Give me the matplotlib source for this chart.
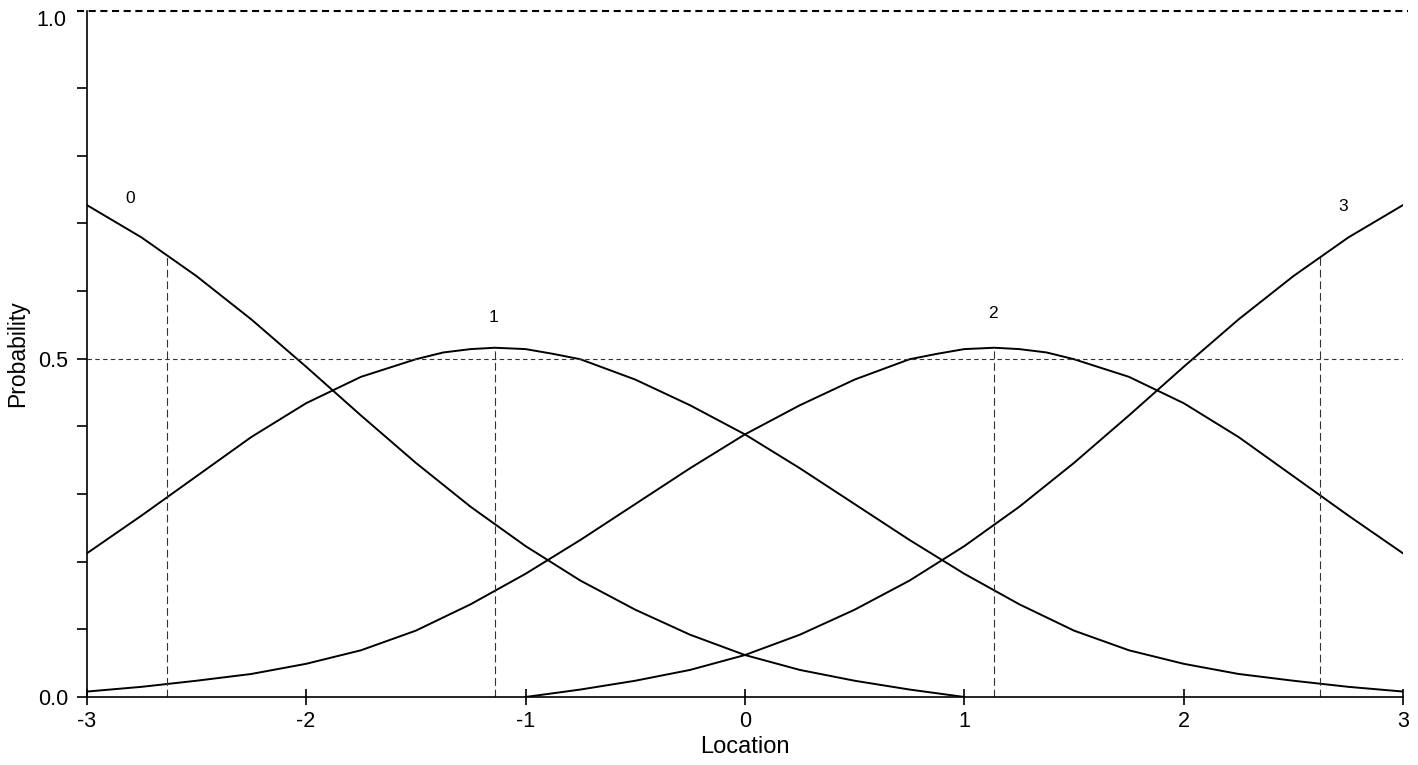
import numpy as np
import matplotlib
matplotlib.use('Agg')
import matplotlib.pyplot as plt

plt.rcParams['font.family'] = ['Liberation Sans', 'DejaVu Sans']

# category probability curves
x0 = [-3.0, -2.75, -2.5, -2.25, -2.0, -1.75, -1.5, -1.25, -1.0, -0.75, -0.5, -0.25, 0.0, 0.25, 0.5, 0.75, 1.0]
p0 = [0.727, 0.679, 0.622, 0.558, 0.488, 0.416, 0.346, 0.281, 0.223, 0.172, 0.129, 0.092, 0.062, 0.040, 0.024, 0.011, 0.0]

x1 = [-3.0, -2.75, -2.5, -2.25, -2.0, -1.75, -1.5, -1.375, -1.25, -1.14, -1.0, -0.875, -0.75, -0.5, -0.25, 0.0,
      0.25, 0.5, 0.75, 1.0, 1.25, 1.5, 1.75, 2.0, 2.25, 2.5, 2.75, 3.0]
p1 = [0.212, 0.268, 0.326, 0.384, 0.434, 0.473, 0.499, 0.509, 0.514, 0.516, 0.514, 0.507, 0.499, 0.469, 0.431, 0.388,
      0.338, 0.285, 0.232, 0.182, 0.137, 0.098, 0.069, 0.049, 0.034, 0.024, 0.015, 0.008]

x2 = [-3.0, -2.75, -2.5, -2.25, -2.0, -1.75, -1.5, -1.25, -1.0, -0.75, -0.5, -0.25, 0.0,
      0.25, 0.5, 0.75, 0.875, 1.0, 1.137, 1.25, 1.375, 1.5, 1.75, 2.0, 2.25, 2.5, 2.75, 3.0]
p2 = [0.008, 0.015, 0.024, 0.034, 0.049, 0.069, 0.098, 0.137, 0.182, 0.232, 0.285, 0.338, 0.388,
      0.431, 0.469, 0.499, 0.507, 0.514, 0.516, 0.514, 0.509, 0.499, 0.473, 0.434, 0.384, 0.326, 0.268, 0.212]

x3 = [-1.0, -0.75, -0.5, -0.25, 0.0, 0.25, 0.5, 0.75, 1.0, 1.25, 1.5, 1.75, 2.0, 2.25, 2.5, 2.75, 3.0]
p3 = [0.0, 0.011, 0.024, 0.040, 0.062, 0.092, 0.129, 0.172, 0.223, 0.281, 0.346, 0.416, 0.488, 0.558, 0.622, 0.679, 0.727]

curve_labels = ['0', '1', '2', '3']
# locations of the dashed drop lines (one per curve)
drop_x = [-2.635, -1.14, 1.137, 2.62]

fig = plt.figure(figsize=(14.18, 7.65), dpi=100)
ax = fig.add_axes([0.0611, 0.0889, 0.9285, 0.8967])

curves = [(x0, p0), (x1, p1), (x2, p2), (x3, p3)]
for xs, ps in curves:
    ax.plot(xs, ps, color='black', lw=1.4, solid_joinstyle='round')

# dashed drop lines down from the curves
for (xs, ps), dx in zip(curves, drop_x):
    ax.plot([dx, dx], [0, np.interp(dx, xs, ps)], color='#333333', lw=0.8,
            linestyle=(0, (7, 3.5)))

# 0.5 reference line
ax.plot([-3, 3], [0.5, 0.5], color='#333333', lw=0.8, linestyle=(0, (4, 3)))

# curve labels
label_pos = [(-2.80, 0.737), (-1.148, 0.560), (1.131, 0.567), (2.726, 0.724)]
for lab, (lx, ly) in zip(curve_labels, label_pos):
    ax.text(lx, ly, lab, fontsize=12.5, ha='center', va='center')

ax.set_xlim(-3, 3)
ax.set_ylim(0, 1.0135)

ax.spines['right'].set_visible(False)
ax.spines['top'].set_visible(False)
for s in ['left', 'bottom']:
    ax.spines[s].set_linewidth(1.2)

# dashed top border with its little tick
ax.plot([-3.045, 3.02], [1.0135, 1.0135], color='black', lw=1.5,
        linestyle=(0, (3.4, 2.2)), clip_on=False)

ax.set_xticks([-3, -2, -1, 0, 1, 2, 3])
ax.set_xticklabels(['-3', '-2', '-1', '0', '1', '2', '3'])
ax.tick_params(axis='x', direction='inout', length=12, width=1.2, labelsize=15.5, pad=4)

yt = [0.0, 0.1, 0.2, 0.3, 0.4, 0.5, 0.6, 0.7, 0.8, 0.9]
ax.set_yticks(yt)
ax.set_yticklabels(['0.0', '', '', '', '', '0.5', '', '', '', ''])
ax.tick_params(axis='y', direction='out', length=7.5, width=1.2, labelsize=15.5, pad=6)
ax.text(-3.092, 1.0, '1.0', fontsize=15.5, ha='right', va='center')

ax.set_xlabel('Location', fontsize=17, labelpad=3)
ax.set_ylabel('Probability', fontsize=16.5, labelpad=6)

fig.savefig('out.png', dpi=100)
